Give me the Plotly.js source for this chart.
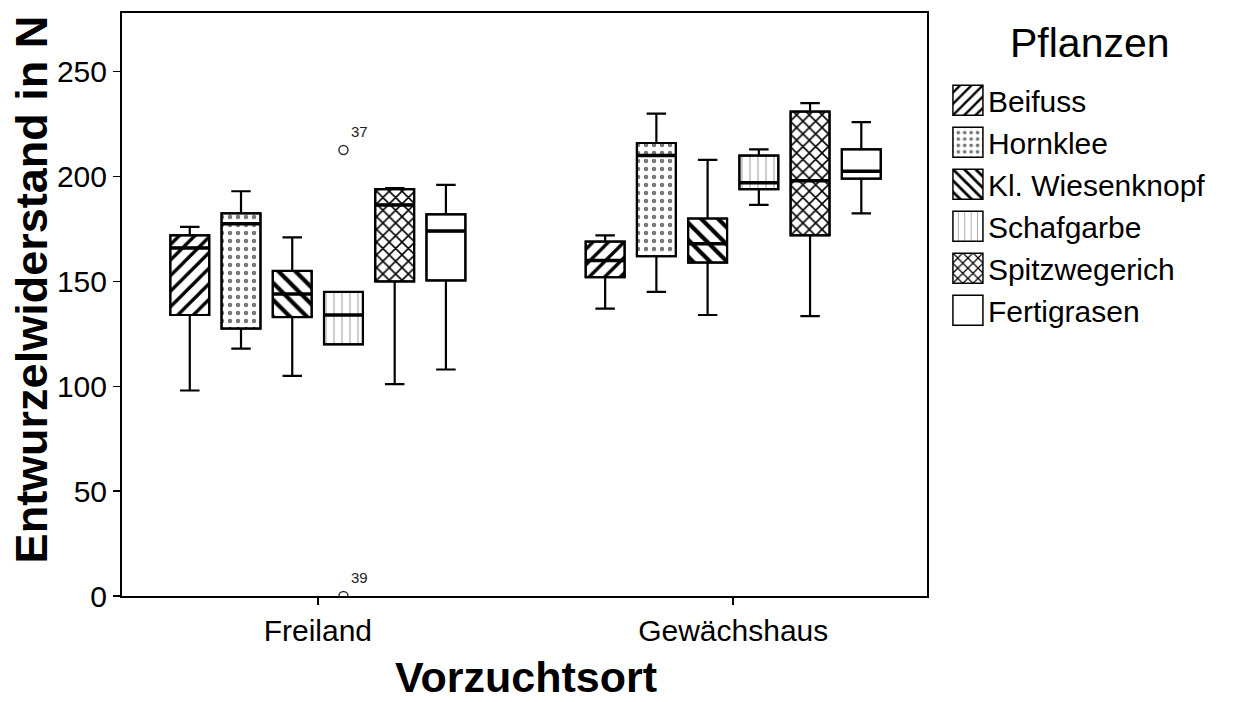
<!DOCTYPE html>
<html>
<head>
<meta charset="utf-8">
<script src="https://cdn.plot.ly/plotly-3.0.1.min.js"></script>
<style>
  html, body { margin: 0; padding: 0; background: #fff; }
  #chart { width: 1234px; height: 702px; }
</style>
</head>
<body>
<div id="chart"></div>
<script>
// ---- data ----
const categories = ['Freiland', 'Gewächshaus'];
const plants = ['Beifuss', 'Hornklee', 'Kl. Wiesenknopf', 'Schafgarbe', 'Spitzwegerich', 'Fertigrasen'];

// [Freiland, Gewächshaus]
const lowerWhisker = {
  'Beifuss':         [98, 137],
  'Hornklee':        [118, 145],
  'Kl. Wiesenknopf': [105, 134],
  'Schafgarbe':      [120, 186.5],
  'Spitzwegerich':   [101, 133.5],
  'Fertigrasen':     [108, 182.5]
};
const q1Values = {
  'Beifuss':         [134, 152],
  'Hornklee':        [127.5, 162],
  'Kl. Wiesenknopf': [133, 159],
  'Schafgarbe':      [120, 194],
  'Spitzwegerich':   [150, 172],
  'Fertigrasen':     [150.5, 199]
};
const medianValues = {
  'Beifuss':         [166, 160],
  'Hornklee':        [177.5, 210],
  'Kl. Wiesenknopf': [144, 168],
  'Schafgarbe':      [134, 197],
  'Spitzwegerich':   [186.5, 198],
  'Fertigrasen':     [174, 202.5]
};
const q3Values = {
  'Beifuss':         [172, 169],
  'Hornklee':        [182.5, 216],
  'Kl. Wiesenknopf': [155, 180],
  'Schafgarbe':      [145, 210],
  'Spitzwegerich':   [194, 231],
  'Fertigrasen':     [182, 213]
};
const upperWhisker = {
  'Beifuss':         [176, 172],
  'Hornklee':        [193, 230],
  'Kl. Wiesenknopf': [171, 208],
  'Schafgarbe':      [145, 213],
  'Spitzwegerich':   [194.5, 235],
  'Fertigrasen':     [196, 226]
};
// outliers: plant, category, value, case label
const outlierPlant = ['Schafgarbe', 'Schafgarbe'];
const outlierCategory = ['Freiland', 'Freiland'];
const outlierValues = [212.7, 0];
const outlierLabels = ['37', '39'];

const yTicks = [0, 50, 100, 150, 200, 250];
const legendTitle = 'Pflanzen';
const xTitle = 'Vorzuchtsort';
const yTitle = 'Entwurzelwiderstand in N';

// ---- styles ----
const patterns = {
  'Beifuss':         {shape: '/',  size: 11, solidity: 0.3,  fgcolor: '#000'},
  'Hornklee':        {shape: '.',  size: 8,  solidity: 0.25, fgcolor: '#777'},
  'Kl. Wiesenknopf': {shape: '\\', size: 12, solidity: 0.35, fgcolor: '#000'},
  'Schafgarbe':      {shape: '|',  size: 8,  solidity: 0.12, fgcolor: '#999'},
  'Spitzwegerich':   {shape: 'x',  size: 9,  solidity: 0.32, fgcolor: '#000'},
  'Fertigrasen':     {shape: '',   size: 8,  solidity: 0.3,  fgcolor: '#000'}
};
const FONT = 'Liberation Sans, Arial, sans-serif';
const GAP = 0.26, GROUPGAP = 0.24;

const traces = [];
// pattern-filled interquartile boxes (bars)
plants.forEach(p => {
  traces.push({
    type: 'bar', name: p, x: categories,
    base: q1Values[p],
    y: q3Values[p].map((v, i) => v - q1Values[p][i]),
    offsetgroup: p, legendgroup: p,
    marker: {color: '#fff', pattern: patterns[p], line: {color: '#000', width: 2}},
    hoverinfo: 'skip'
  });
});
// whiskers + outline + outliers
plants.forEach(p => {
  const pts = categories.map(c => outlierValues.filter((v, i) => outlierPlant[i] === p && outlierCategory[i] === c));
  const hasPts = pts.some(a => a.length > 0);
  const t = {
    type: 'box', name: p, x: categories, showlegend: false, offsetgroup: p, legendgroup: p,
    q1: q1Values[p], median: medianValues[p], q3: q3Values[p],
    lowerfence: lowerWhisker[p], upperfence: upperWhisker[p],
    boxpoints: hasPts ? 'outliers' : false, pointpos: 0, jitter: 0,
    marker: {symbol: 'circle-open', size: 9, color: '#333', line: {width: 1.5, color: '#333'}},
    fillcolor: 'rgba(0,0,0,0)', line: {color: '#000', width: 2.2},
    whiskerwidth: 0.5, hoverinfo: 'skip'
  };
  if (hasPts) t.y = pts;
  traces.push(t);
});
// thick median lines
plants.forEach(p => {
  traces.push({
    type: 'box', name: p + ' median', x: categories, showlegend: false, offsetgroup: p,
    q1: medianValues[p], median: medianValues[p], q3: medianValues[p],
    lowerfence: medianValues[p], upperfence: medianValues[p],
    boxpoints: false, fillcolor: 'rgba(0,0,0,0)', line: {color: '#000', width: 3.5},
    whiskerwidth: 0, hoverinfo: 'skip'
  });
});

// annotation positions derived from the library's grouping rule
const annotations = outlierValues.map((v, i) => {
  const k = plants.indexOf(outlierPlant[i]);
  const offset = (1 - GAP) * (-0.5 + (k + 0.5) / plants.length);
  return {
    x: categories.indexOf(outlierCategory[i]) + offset, y: v, xref: 'x', yref: 'y',
    text: outlierLabels[i], showarrow: false, xanchor: 'left', yanchor: 'bottom',
    xshift: 6, yshift: 8, font: {family: FONT, size: 15, color: '#222'}
  };
});
annotations.push({
  xref: 'paper', yref: 'paper', x: -0.113, y: 0.526, xanchor: 'center', yanchor: 'middle',
  text: yTitle, textangle: -90, showarrow: false,
  font: {family: FONT, size: 45, weight: 'bold', color: '#000'}
});
annotations.push({
  xref: 'paper', yref: 'paper', x: 0.502, y: -0.1815, xanchor: 'center', yanchor: 'bottom',
  text: xTitle, showarrow: false, borderpad: 0,
  font: {family: FONT, size: 43, weight: 'bold', color: '#000'}
});
annotations.push({
  xref: 'paper', yref: 'paper', x: 1.202, y: 0.948, xanchor: 'center', yanchor: 'middle',
  text: legendTitle, showarrow: false,
  font: {family: FONT, size: 41, color: '#000'}
});

const layout = {
  width: 1234, height: 702,
  margin: {l: 122, r: 307, t: 13, b: 106},
  paper_bgcolor: '#fff', plot_bgcolor: '#fff',
  font: {family: FONT, color: '#000'},
  barmode: 'group', bargap: GAP, bargroupgap: GROUPGAP,
  boxmode: 'group', boxgap: GAP, boxgroupgap: GROUPGAP,
  showlegend: true,
  legend: {
    x: 1.026, xanchor: 'left', y: 0.895, yanchor: 'top',
    font: {family: FONT, size: 30, color: '#000'},
    traceorder: 'normal', itemclick: false
  },
  xaxis: {
    type: 'category', range: [-0.4715, 1.4665],
    showline: true, mirror: true, linecolor: '#000', linewidth: 2,
    ticks: 'outside', ticklen: 7, tickwidth: 1.5, tickcolor: '#000',
    tickfont: {family: FONT, size: 30, color: '#000'},
    showgrid: false, zeroline: false
  },
  yaxis: {
    range: [0, 278], tickvals: yTicks,
    showline: true, mirror: true, linecolor: '#000', linewidth: 2,
    ticks: 'outside', ticklen: 7, tickwidth: 1.5, tickcolor: '#000',
    tickfont: {family: FONT, size: 30, color: '#000'},
    showgrid: false, zeroline: false
  },
  annotations: annotations
};

Plotly.newPlot('chart', traces, layout, {displayModeBar: false, staticPlot: true}).then(() => {
  // enlarge legend swatches (keep the pattern scale) to match the reference
  document.querySelectorAll('.legend .legendpoints path').forEach(p => {
    p.setAttribute('d', 'M15,15H-15V-15H15Z');
    p.style.strokeWidth = '1.5px';
  });
});
</script>
</body>
</html>
